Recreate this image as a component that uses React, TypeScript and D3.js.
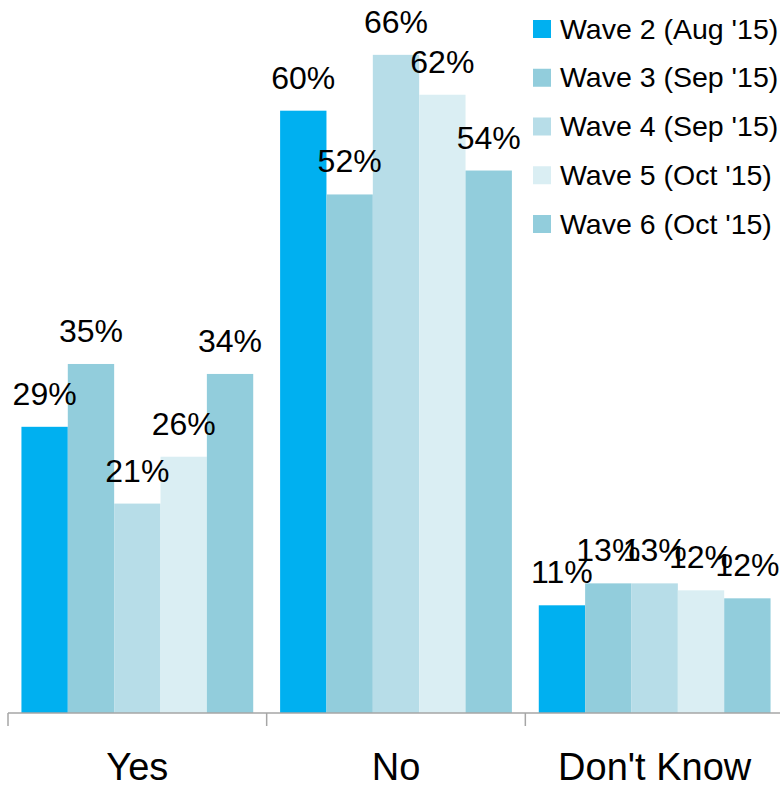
import React from "react";
import * as d3 from "d3";

const categories = ["Yes", "No", "Don't Know"];
const seriesNames = [
  "Wave 2 (Aug '15)",
  "Wave 3 (Sep '15)",
  "Wave 4 (Sep '15)",
  "Wave 5 (Oct '15)",
  "Wave 6 (Oct '15)",
];
const seriesColors = ["#00B0F0", "#92CDDC", "#B7DDE8", "#DAEEF3", "#92CDDC"];
// values per category, one per wave
const yesValues = [28.7, 35.0, 21.0, 25.7, 34.0];
const noValues = [60.4, 52.0, 66.0, 62.0, 54.4];
const dkValues = [10.8, 13.0, 13.0, 12.3, 11.5];

const W = 780;
const H = 787;
const FONT = "'Liberation Sans', Arial, sans-serif";

export default function App() {
  const table = [yesValues, noValues, dkValues];
  const x0 = d3.scaleBand<string>().domain(categories).range([8, 784]).padding(0);
  const x1 = d3
    .scaleBand<string>()
    .domain(seriesNames)
    .range([0, x0.bandwidth()])
    .paddingInner(0)
    .paddingOuter(0.29);
  const y = d3.scaleLinear().domain([0, 71.5]).range([713, 0]);

  const ticks = [...categories.map((c) => x0(c) as number), 784];

  return (
    <svg
      width={W}
      height={H}
      style={{ position: "absolute", left: 0, top: 0, background: "#fff" }}
      fontFamily={FONT}
    >
      {categories.map((c, ci) => (
        <g key={c} transform={`translate(${x0(c)},0)`}>
          {seriesNames.map((s, si) => {
            const v = table[ci][si];
            const bx = x1(s) as number;
            return (
              <rect
                key={s}
                x={bx}
                y={y(v)}
                width={x1.bandwidth()}
                height={y(0) - y(v)}
                fill={seriesColors[si]}
              />
            );
          })}
        </g>
      ))}
      {categories.map((c, ci) => (
        <g key={c + "l"} transform={`translate(${x0(c)},0)`}>
          {seriesNames.map((s, si) => {
            const v = table[ci][si];
            const bx = x1(s) as number;
            return (
              <text
                key={s}
                x={bx + x1.bandwidth() / 2}
                y={y(v) - 22}
                textAnchor="middle"
                fontSize={32}
                fill="#000"
              >
                {Math.round(v)}%
              </text>
            );
          })}
        </g>
      ))}
      {/* axis */}
      <line x1={8} x2={784} y1={713} y2={713} stroke="#A6A6A6" strokeWidth={1.5} />
      {ticks.map((t, i) => (
        <line key={i} x1={t} x2={t} y1={713} y2={726} stroke="#A6A6A6" strokeWidth={1.5} />
      ))}
      {categories.map((c) => (
        <text
          key={c + "c"}
          x={(x0(c) as number) + x0.bandwidth() / 2}
          y={780}
          textAnchor="middle"
          fontSize={38}
          fill="#000"
        >
          {c}
        </text>
      ))}
      {/* legend */}
      {seriesNames.map((s, i) => {
        const cy = 29 + i * 48.75;
        return (
          <g key={s + "lg"}>
            <rect x={533} y={cy - 9} width={18} height={18} fill={seriesColors[i]} />
            <text x={560} y={cy + 9.5} fontSize={28.5} fill="#000">
              {s}
            </text>
          </g>
        );
      })}
    </svg>
  );
}
